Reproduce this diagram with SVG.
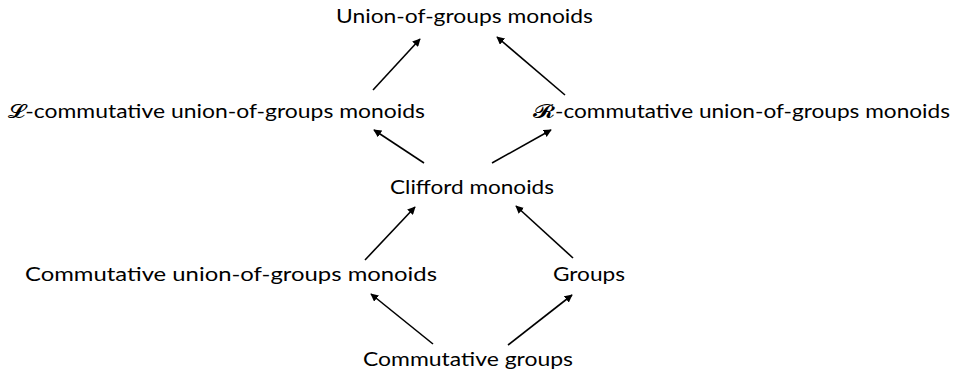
<svg xmlns="http://www.w3.org/2000/svg" width="957" height="377" viewBox="0 0 957 377">
<defs>
<marker id="ah" viewBox="0 0 10 10" refX="9" refY="5" markerWidth="5" markerHeight="5" orient="auto" markerUnits="strokeWidth">
<path d="M0,0 L10,5 L0,10 z" fill="#000"/>
</marker>
<style>
text{font-family:Lato,"Open Sans","Liberation Sans",sans-serif;font-size:18.5px;fill:#000}
.s{font-family:"DejaVu Sans","DejaVu Serif",serif}
.c line{stroke:#000;stroke-width:1.6;marker-end:url(#ah)}
</style>
</defs>
<rect width="957" height="377" fill="#fff"/>
<g id="n-union"><text x="336" y="23" textLength="257" lengthAdjust="spacingAndGlyphs">Union-of-groups monoids</text></g>
<g id="n-lcomm"><text x="8" y="118" textLength="417" lengthAdjust="spacingAndGlyphs"><tspan class="s">𝓛</tspan>-commutative union-of-groups monoids</text></g>
<g id="n-rcomm"><text x="533" y="118" textLength="417" lengthAdjust="spacingAndGlyphs"><tspan class="s">𝓡</tspan>-commutative union-of-groups monoids</text></g>
<g id="n-clifford"><text x="390" y="194" textLength="164" lengthAdjust="spacingAndGlyphs">Clifford monoids</text></g>
<g id="n-communion"><text x="25" y="281" textLength="412" lengthAdjust="spacingAndGlyphs">Commutative union-of-groups monoids</text></g>
<g id="n-groups"><text x="553" y="281" textLength="72" lengthAdjust="spacingAndGlyphs">Groups</text></g>
<g id="n-commgroups"><text x="363" y="366" textLength="210" lengthAdjust="spacingAndGlyphs">Commutative groups</text></g>
<g id="connectors" class="c">
<line x1="373" y1="90" x2="420" y2="39"/>
<line x1="565" y1="95" x2="497" y2="37"/>
<line x1="424" y1="163" x2="374" y2="130"/>
<line x1="492" y1="163" x2="551" y2="130"/>
<line x1="365" y1="260" x2="415" y2="207"/>
<line x1="573" y1="258" x2="516" y2="206"/>
<line x1="433" y1="344" x2="371" y2="294"/>
<line x1="508" y1="345" x2="572" y2="295"/>
</g>
</svg>
